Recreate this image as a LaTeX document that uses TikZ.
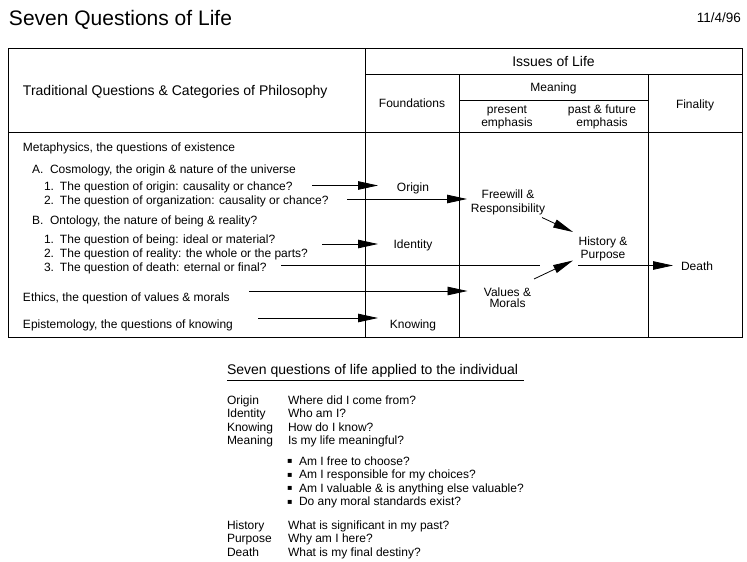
\documentclass[tikz,border=0pt]{standalone}
\usepackage{fontspec}
\setmainfont{Liberation Sans}
\newfontfamily\dejavu{DejaVu Sans}
\usetikzlibrary{arrows.meta}
\newcommand\fb{\fontsize{12}{13}\selectfont}
\newcommand\fh{\fontsize{14}{17}\selectfont}
\newcommand\fttl{\fontsize{21}{25}\selectfont}
\newcommand\fdate{\fontsize{13.5}{16}\selectfont}
\newcommand\numbox[1]{\makebox[16pt][l]{#1}}
\newcommand\letbox[1]{\makebox[18pt][l]{#1}}
\newcommand\topstrut{\rule{0pt}{9pt}}
\newcommand\sqbullet{\raisebox{1.6pt}{\dejavu\fontsize{8}{9}\selectfont ▪}}
\begin{document}
\begin{tikzpicture}[x=1pt,y=-1pt,
  every node/.style={inner sep=0pt, outer sep=0pt},
  body/.style={font=\fb},
  head/.style={font=\fh},
  lt/.style={body, anchor=base west},
  rule/.style={line width=0.8pt, black},
  arr/.style={line width=0.8pt, -{Triangle[length=20pt,width=8.5pt]}},
  fcol/.style={body, minimum width=70pt, anchor=base},
  two/.style={body, align=center, anchor=north}
]
\useasboundingbox (0,0) rectangle (747,562);

% title
\node[anchor=base west, font=\fttl] (title) at (9,25) {Seven Questions of Life};
\node[anchor=base east, font=\fdate] (date) at (741,23) {11/4/96};

% table frame
\draw[rule] (8,48) rectangle (742,337);
\draw[rule] (365,48) -- (365,337);
\draw[rule] (365,74) -- (742,74);
\draw[rule] (459,74) -- (459,337);
\draw[rule] (648,74) -- (648,337);
\draw[rule] (459,100) -- (648,100);
\draw[rule] (8,132) -- (742,132);

% header texts
\node[head, anchor=base west] (trad) at (23,95) {Traditional Questions \& Categories of Philosophy};
\node[head, anchor=base] (iss) at (553.5,66) {Issues of Life};
\node[body, anchor=base] (mean) at (553.5,91) {Meaning};
\node[body, anchor=base] (fnd) at (412,107) {Foundations};
\node[body, anchor=base] (fin) at (695,108) {Finality};
\node[two] (pres) at (507,104) {\topstrut present\\emphasis};
\node[two] (past) at (602,104) {\topstrut past \& future\\emphasis};

% left column texts
\node[lt] (meta) at (23,151) {Metaphysics, the questions of existence};
\node[lt] (cos) at (32,173) {\letbox{A.}Cosmology, the origin \& nature of the universe};
\node[lt] (q1) at (44,190) {\numbox{1.}The question of origin: causality or chance?};
\node[lt] (q2) at (44,204.5) {\numbox{2.}The question of organization: causality or chance?};
\node[lt] (ont) at (32,224) {\letbox{B.}Ontology, the nature of being \& reality?};
\node[lt] (q3) at (44,243) {\numbox{1.}The question of being: ideal or material?};
\node[lt] (q4) at (44,257) {\numbox{2.}The question of reality: the whole or the parts?};
\node[lt] (q5) at (44,271) {\numbox{3.}The question of death: eternal or final?};
\node[lt] (eth) at (23,301) {Ethics, the question of values \& morals};
\node[lt] (epi) at (23,328) {Epistemology, the questions of knowing};

% arrow start points
\coordinate (a1) at (312,185.5);
\coordinate (a2) at (347,199);
\coordinate (a3) at (322,244);
\coordinate (a4) at (281,265.5);
\coordinate (a5) at (249,291);
\coordinate (a6) at (258,318);

% issue nodes
\node[fcol] (OR) at (413,191) {Origin};
\node[fcol] (ID) at (413,248) {Identity};
\node[fcol] (KN) at (413,328) {Knowing};
\node[two, minimum width=82pt] (FR) at (508,189) {\topstrut Freewill \&\\[1.5pt]Responsibility};
\node[two, minimum width=60pt] (HP) at (603,236) {\topstrut History \&\\Purpose};
\node[two, minimum width=80pt] (VM) at (507.5,287) {\topstrut Values \&\\[-1.5pt]Morals};
\node[body, anchor=base west, inner xsep=8pt] (DE) at (673,270) {Death};

% connectors
\draw[arr] (a1) -- (a1 -| OR.west);
\draw[arr] (a2) -- (a2 -| FR.west);
\draw[arr] (a3) -- (a3 -| ID.west);
\draw[rule] (a4) -- ([xshift=-33pt]a4 -| HP.west);
\draw[arr] ([xshift=5pt]a4 -| HP.west) -- (a4 -| DE.west);
\draw[arr] (a5) -- (a5 -| VM.west);
\draw[arr] (a6) -- (a6 -| KN.west);
\draw[arr] ([shift={(-7,2.5)}]FR.south east) -- ([yshift=4pt]HP.north west);
\draw[arr] ([shift={(-13.5,-8)}]VM.north east) -- (HP.south west);

% lower section
\node[head, anchor=base west] (sub) at (227,374) {Seven questions of life applied to the individual};
\draw[rule] (227,380.7) -- (524,380.7);

\node[lt] (l1) at (227,404) {Origin};
\node[lt] (r1) at (288,404) {Where did I come from?};
\node[lt] (l2) at (227,417.7) {Identity};
\node[lt] (r2) at (288,417.7) {Who am I?};
\node[lt] (l3) at (227,431) {Knowing};
\node[lt] (r3) at (288,431) {How do I know?};
\node[lt] (l4) at (227,444.5) {Meaning};
\node[lt] (r4) at (288,444.5) {Is my life meaningful?};

\node[lt] (b1) at (287,465) {\sqbullet};
\node[lt] (t1) at (299,465) {Am I free to choose?};
\node[lt] (b2) at (287,478.6) {\sqbullet};
\node[lt] (t2) at (299,478.6) {Am I responsible for my choices?};
\node[lt] (b3) at (287,492.2) {\sqbullet};
\node[lt] (t3) at (299,492.2) {Am I valuable \& is anything else valuable?};
\node[lt] (b4) at (287,505.8) {\sqbullet};
\node[lt] (t4) at (299,505.8) {Do any moral standards exist?};

\node[lt] (l5) at (227,529) {History};
\node[lt] (r5) at (288,529) {What is significant in my past?};
\node[lt] (l6) at (227,542.7) {Purpose};
\node[lt] (r6) at (288,542.7) {Why am I here?};
\node[lt] (l7) at (227,556) {Death};
\node[lt] (r7) at (288,556) {What is my final destiny?};
\end{tikzpicture}
\end{document}
